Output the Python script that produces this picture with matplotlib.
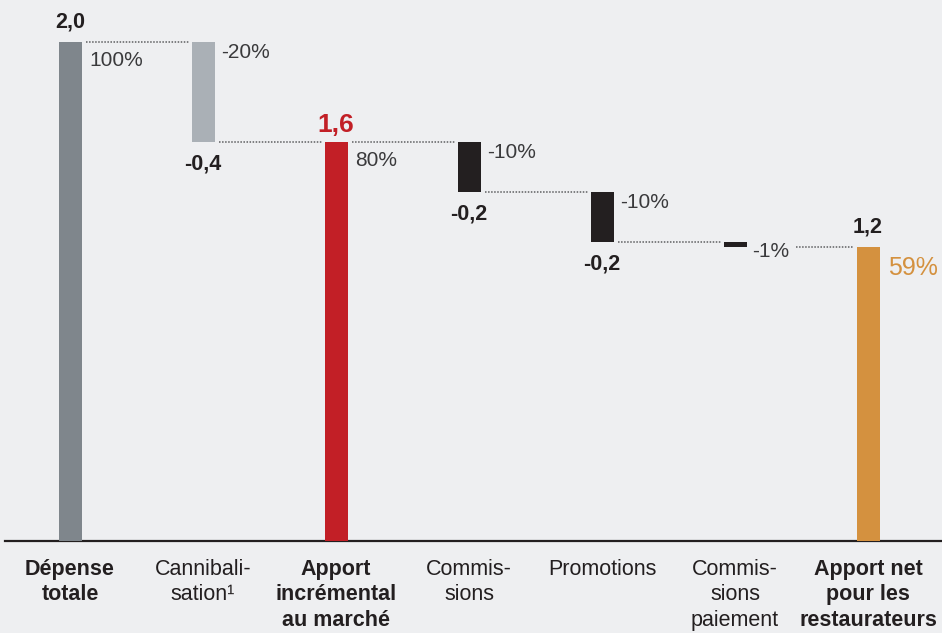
import numpy as np
import matplotlib.pyplot as plt
from matplotlib.transforms import blended_transform_factory

plt.rcParams['font.family'] = ['Liberation Sans', 'DejaVu Sans']

# étapes du pont : total, variations, sous-total, variations, total final
categories = ['Dépense\ntotale', 'Cannibali-\nsation¹', 'Apport\nincrémental\nau marché',
              'Commis-\nsions', 'Promotions', 'Commis-\nsions\npaiement',
              'Apport net\npour les\nrestaurateurs']
bold_cat = [True, False, True, False, False, False, True]
kinds = ['total', 'delta', 'total', 'delta', 'delta', 'delta', 'total']
values = [2.0, -0.4, 1.6, -0.2, -0.2, -0.02, 1.18]
pct_labels = ['100%', '-20%', '80%', '-10%', '-10%', '-1%', '59%']
colors = ['#7f868c', '#aab0b6', '#c21f26', '#231f20', '#231f20', '#231f20', '#d4913f']

bg = '#eeeff1'
fig = plt.figure(figsize=(9.42, 6.33), dpi=100, facecolor=bg)
ax = fig.add_axes([5 / 942, (633 - 541) / 633, 1 - 5 / 942, 541 / 633])
ax.set_facecolor(bg)

x = np.arange(len(values))
w = 0.173
bottoms, tops = [], []
level = 0.0
for k, v in zip(kinds, values):
    if k == 'total':
        bottoms.append(0.0)
        tops.append(v)
        level = v
    else:
        bottoms.append(level + v)
        tops.append(level)
        level = level + v

heights = np.array(tops) - np.array(bottoms)
ax.bar(x, heights, bottom=bottoms, width=w, color=colors, zorder=3)

ax.set_xlim(-0.489, 6.556)
ax.set_ylim(0, 2.168)
for s in ['top', 'right', 'left']:
    ax.spines[s].set_visible(False)
ax.spines['bottom'].set_linewidth(1.6)
ax.spines['bottom'].set_color('#231f20')
ax.set_xticks([])
ax.set_yticks([])

def fmt(v):
    return f'{v:.1f}'.replace('.', ',')

# traits pointillés entre les barres
for i in range(len(values) - 1):
    if kinds[i] == 'total':
        lvl = tops[i]
    else:
        lvl = bottoms[i]
    x0 = x[i] + w / 2 + 0.03
    if i == 5:
        x0 = x[i] + 0.455
    x1 = x[i + 1] - w / 2 - 0.02
    ax.plot([x0, x1], [lvl, lvl], ls=(0, (1, 1)), lw=1.1, color='#5e5f61', zorder=2)

txt = '#231f20'
pct_col = '#3a3a3c'
for i in range(len(values)):
    xr = x[i] + w / 2
    if kinds[i] == 'total':
        col, size, dy = txt, 15.5, 9
        if i == 2:
            col, size, dy = '#c21f26', 19, 5
        ax.annotate(fmt(values[i]), (x[i], tops[i]), xytext=(0, dy), textcoords='offset pixels',
                    ha='center', va='bottom', fontsize=size, fontweight='bold', color=col)
        pcol, psize = pct_col, 15
        if i == 6:
            pcol, psize = '#d4913f', 18
        ax.annotate(pct_labels[i], (xr, tops[i]), xytext=(8, -9), textcoords='offset pixels',
                    ha='left', va='top', fontsize=psize, color=pcol)
    else:
        if i < 5:
            ax.annotate(fmt(values[i]), (x[i], bottoms[i]), xytext=(0, -12), textcoords='offset pixels',
                        ha='center', va='top', fontsize=15.5, fontweight='bold', color=txt)
            ax.annotate(pct_labels[i], (xr, tops[i]), xytext=(7, -1), textcoords='offset pixels',
                        ha='left', va='top', fontsize=15, color=pct_col)
        else:
            ax.annotate(pct_labels[i], (xr, (tops[i] + bottoms[i]) / 2), xytext=(6, -7),
                        textcoords='offset pixels', ha='left', va='center', fontsize=15, color=pct_col)

# libellés des catégories sous l'axe
trans = blended_transform_factory(ax.transData, ax.transAxes)
for i, c in enumerate(categories):
    ax.annotate(c, (x[i], 0), xycoords=trans, xytext=(0, -18), textcoords='offset pixels',
                ha='center', va='top', fontsize=15.5, linespacing=1.27,
                fontweight='bold' if bold_cat[i] else 'normal', color=txt, annotation_clip=False)

fig.savefig('out.png', dpi=100, facecolor=bg)
